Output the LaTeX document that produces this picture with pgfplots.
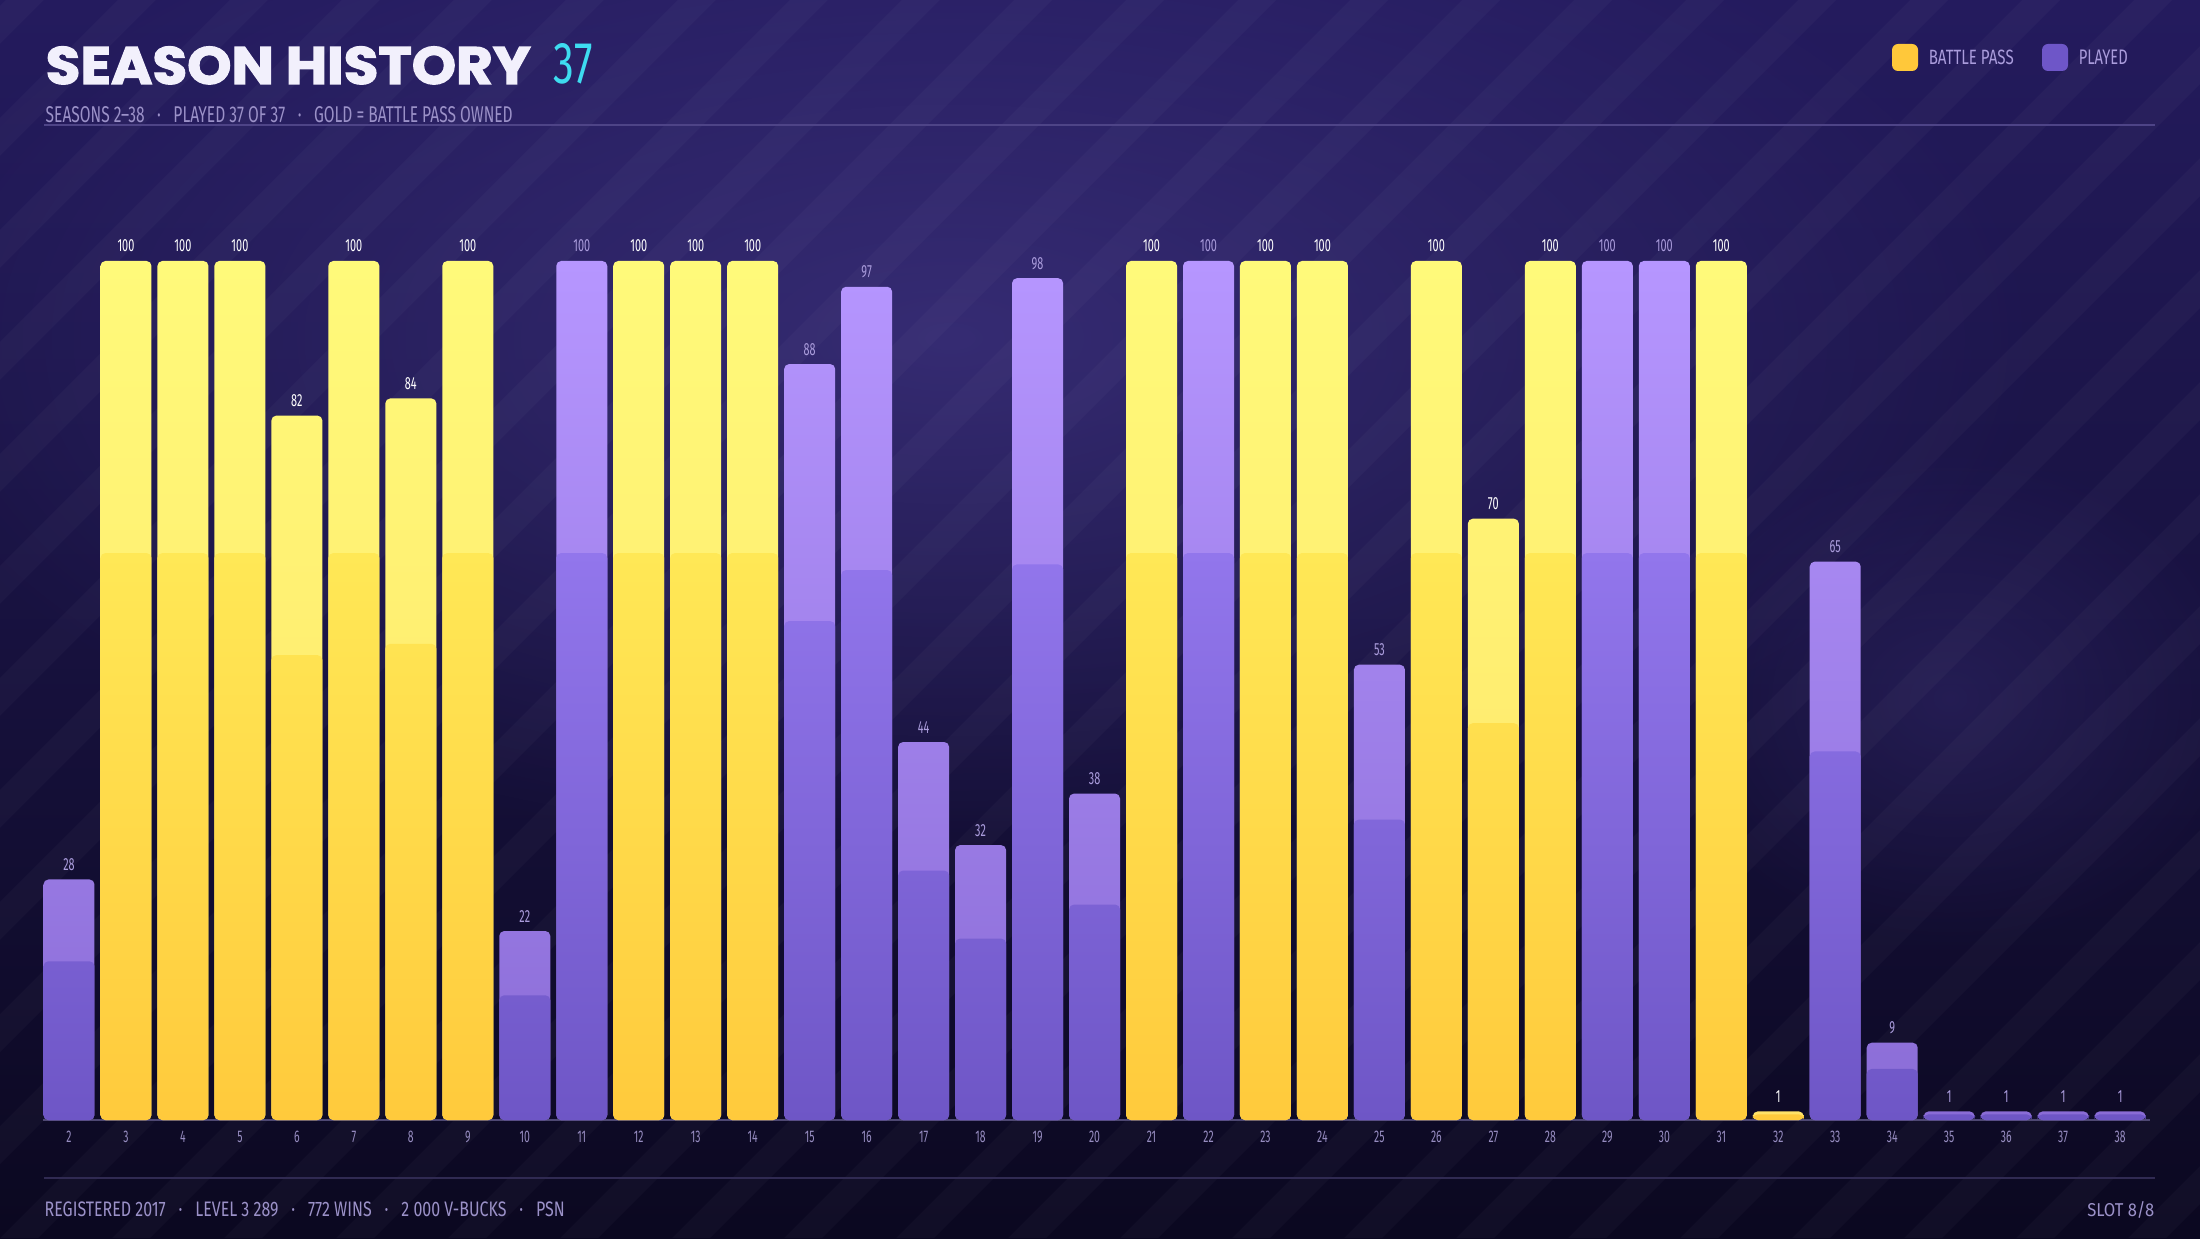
\documentclass[border=0pt]{standalone}
\usepackage{fontspec}
\setmainfont{Fira Sans}[FakeStretch=0.62]
\newfontfamily\titlefont{Poppins}[BoldFeatures={FakeBold=2.2}]
\usepackage{pgfplots}
\pgfplotsset{compat=1.18}
\usepackage{pgfplotstable}
\usetikzlibrary{fadings}

\definecolor{bgtop}{RGB}{36,27,94}
\definecolor{bgmid}{RGB}{26,19,72}
\definecolor{bgbot}{RGB}{11,8,32}
\definecolor{glow}{RGB}{70,58,140}
\definecolor{gAt}{RGB}{255,250,122}
\definecolor{gAb}{RGB}{255,226,104}
\definecolor{gBt}{RGB}{255,232,86}
\definecolor{gBb}{RGB}{255,202,60}
\definecolor{pAt}{RGB}{182,150,255}
\definecolor{pAb}{RGB}{138,108,214}
\definecolor{pBt}{RGB}{146,118,236}
\definecolor{pBb}{RGB}{110,86,198}
\definecolor{legG}{RGB}{255,200,58}
\definecolor{legP}{RGB}{110,86,200}
\definecolor{subc}{RGB}{155,145,200}
\definecolor{tickc}{RGB}{150,140,192}
\definecolor{plabc}{RGB}{170,156,220}
\definecolor{titlec}{RGB}{242,240,252}
\definecolor{cyanc}{RGB}{62,220,240}
\definecolor{rulec}{RGB}{78,68,135}
\definecolor{footrule}{RGB}{48,42,82}
\definecolor{basec}{RGB}{78,72,115}

\tikzfading[name=softglow, inner color=transparent!40, outer color=transparent!100]

\newcommand\valfont{\fontsize{5}{6}\selectfont}
\newcommand\tickfont{\fontsize{4.8}{6}\selectfont}

\pgfplotstableread{
s v
3 100
4 100
5 100
6 82
7 100
8 84
9 100
12 100
13 100
14 100
21 100
23 100
24 100
26 100
27 70
28 100
31 100
32 1
}\goldtab

\pgfplotstableread{
s v
2 28
10 22
11 100
15 88
16 97
17 44
18 32
19 98
20 38
22 100
25 53
29 100
30 100
33 65
34 9
35 1
36 1
37 1
38 1
}\playtab

\begin{document}
\begin{tikzpicture}
\begin{scope}[x=0.1mm,y=0.1mm]
  \shade[top color=bgtop, middle color=bgmid, bottom color=bgbot] (0,0) rectangle (2200,1238);
  \fill[glow, path fading=softglow] (950,900) ellipse (1100 and 520);
  \fill[glow, path fading=softglow, fill opacity=0.5] (1950,540) ellipse (300 and 250);
  \begin{scope}
    \clip (0,0) rectangle (2200,1238);
    \foreach \i in {-13,...,21} {
      \fill[white, opacity=0.028] (\i*112,0) -- ++(38,0) -- ++(1238,1238) -- ++(-38,0) -- cycle;
    }
  \end{scope}
  % header
  \node[anchor=base west, inner sep=0pt, text=titlec] at (45,1154)
    {\resizebox{48.5mm}{3.75mm}{\titlefont\bfseries SEASON HISTORY}};
  \node[anchor=base west, inner sep=0pt, text=cyanc] at (553,1154)
    {\resizebox{3.9mm}{4.0mm}{37}};
  \draw[rulec, line width=0.15mm] (44,1113) -- (2155,1113);
  \node[anchor=base west, inner sep=0pt, text=subc] at (45,1115)
    {\resizebox{46.7mm}{1.6mm}{SEASONS 2–38\enspace·\enspace PLAYED 37 OF 37\enspace·\enspace GOLD = BATTLE PASS OWNED}};
  % legend
  \fill[legG, rounded corners=0.6mm] (1892,1167) rectangle (1918,1194);
  \node[anchor=base west, inner sep=0pt, text=plabc] at (1928,1173)
    {\resizebox{8.5mm}{1.45mm}{BATTLE PASS}};
  \fill[legP, rounded corners=0.6mm] (2042,1167) rectangle (2068,1194);
  \node[anchor=base west, inner sep=0pt, text=plabc] at (2078,1173)
    {\resizebox{4.9mm}{1.45mm}{PLAYED}};
  % baseline
  \draw[basec, line width=0.18mm] (43,118) -- (2150,118);
  % footer
  \draw[footrule, line width=0.15mm] (44,60) -- (2155,60);
  \node[anchor=base west, inner sep=0pt, text=subc] at (44,22)
    {\resizebox{52.0mm}{1.47mm}{REGISTERED 2017\enspace·\enspace LEVEL 3\,289\enspace·\enspace 772 WINS\enspace·\enspace 2\,000 V-BUCKS\enspace·\enspace PSN}};
  \node[anchor=base east, inner sep=0pt, text=subc] at (2155,22)
    {\resizebox{6.7mm}{1.5mm}{SLOT 8/8}};
\end{scope}

\begin{axis}[
  at={(4.3mm,11.8mm)}, anchor=south west,
  scale only axis, width=210.5mm, height=94.49mm,
  xmin=1.544, xmax=38.49, ymin=0, ymax=110,
  axis line style={draw=none},
  ytick=\empty, xtick={2,...,38}, major tick length=0pt,
  xticklabel style={font=\tickfont, text=tickc, anchor=base, inner sep=0pt, yshift=-6.5pt},
  /pgf/number format/assume math mode=true,
  bar width=5.1mm,
  clip=false,
]
\addplot[ybar, bar shift=0pt, draw=none, rounded corners=1.4pt, top color=gAt, bottom color=gAb,
  nodes near coords,
  every node near coord/.append style={font=\valfont, text=white, anchor=south, inner sep=0pt, yshift=2.3pt}]
  table[x=s, y=v] {\goldtab};
\addplot[ybar, bar shift=0pt, draw=none, rounded corners=1.4pt, top color=gBt, bottom color=gBb]
  table[x=s, y expr=0.66*\thisrow{v}] {\goldtab};
\addplot[ybar, bar shift=0pt, draw=none, rounded corners=1.4pt, top color=pAt, bottom color=pAb,
  nodes near coords,
  every node near coord/.append style={font=\valfont, text=plabc, anchor=south, inner sep=0pt, yshift=2.3pt}]
  table[x=s, y=v] {\playtab};
\addplot[ybar, bar shift=0pt, draw=none, rounded corners=1.4pt, top color=pBt, bottom color=pBb]
  table[x=s, y expr=0.66*\thisrow{v}] {\playtab};
\end{axis}
\pgfresetboundingbox
\useasboundingbox (0,0) rectangle (220mm,123.8mm);
\end{tikzpicture}
\end{document}
